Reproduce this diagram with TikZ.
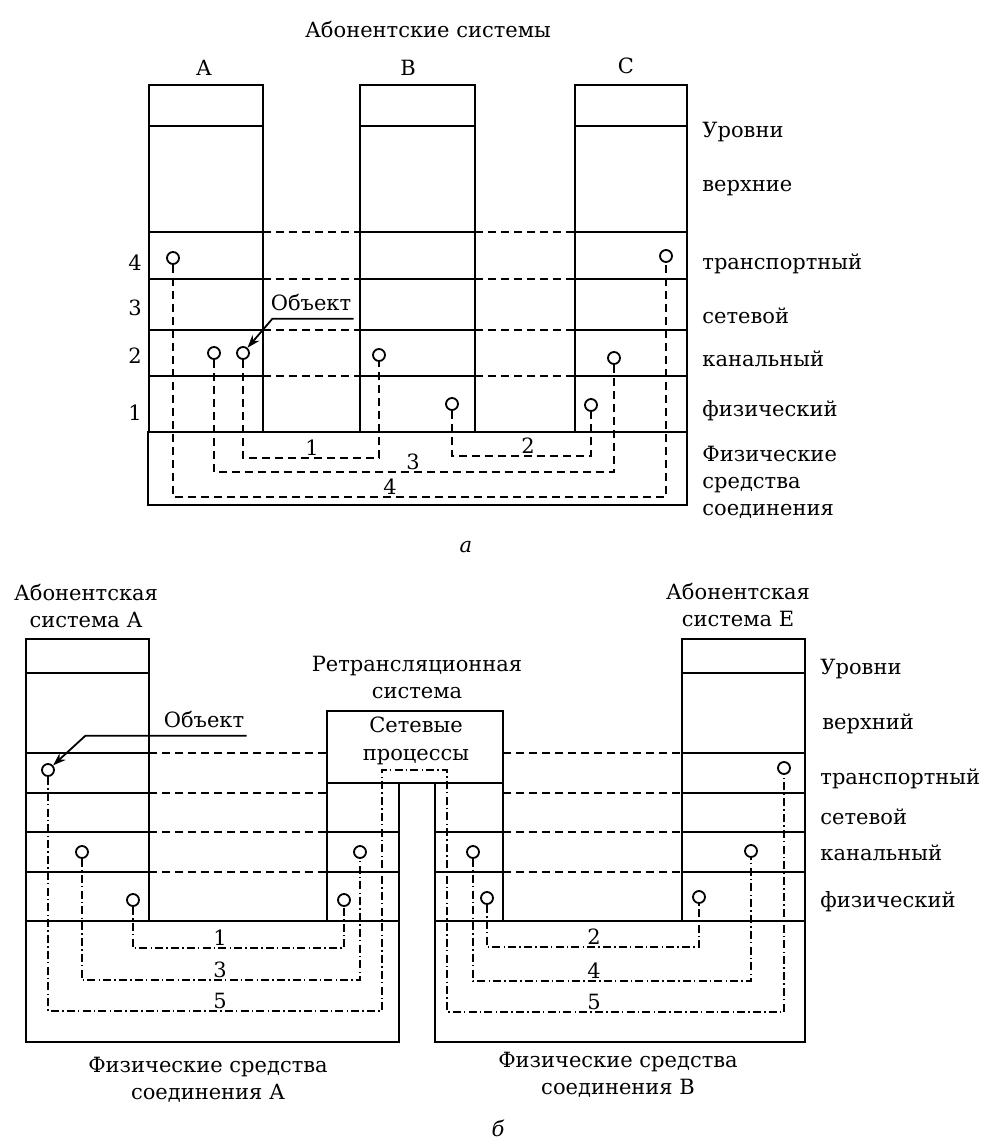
\documentclass[tikz,border=0pt]{standalone}
\usepackage{fontspec}
\setmainfont{DejaVu Serif}
\usetikzlibrary{arrows.meta, positioning, calc}

\tikzset{
  frame/.style={line width=1.3pt},
  thinframe/.style={line width=1pt},
  link/.style={line width=1.2pt, dash pattern=on 4pt off 2.5pt},
  thinlink/.style={line width=0.9pt, dash pattern=on 4pt off 2.5pt},
  route/.style={line width=0.9pt, dash pattern=on 4pt off 1.6pt on 0.7pt off 1.6pt},
  port/.style={circle, draw, line width=0.9pt, fill=white, minimum size=6pt, inner sep=0pt},
  lbl/.style={font=\fontsize{10.5}{13.5}\selectfont, inner sep=1pt, align=center},
  num/.style={lbl, anchor=south},
  side/.style={lbl, anchor=west},
  pointer/.style={line width=0.9pt, -{Stealth[length=6.5pt, width=4.5pt]}},
}

\begin{document}
\begin{tikzpicture}[x=0.5pt, y=-0.5pt]
  \useasboundingbox (0,0) rectangle (988,1144);

  % ---------- a ----------
  \node[lbl] (subsTitle) at (428,30) {Абонентские системы};
  \node[lbl] (sysA) at (204,68) {A};
  \node[lbl] (sysB) at (408,68) {B};
  \node[lbl] (sysC) at (626,66) {C};

  \foreach \l/\r in {149/263, 360/475, 575/687} {
    \draw[frame] (\l,85) rectangle (\r,432);
    \foreach \y in {126,232,279,330,376}
      \draw[frame] (\l,\y) -- (\r,\y);
  }
  \foreach \y in {232,279,330,376} {
    \draw[link] (263,\y) -- (360,\y);
    \draw[link] (475,\y) -- (575,\y);
  }
  \draw[frame] (148,432) rectangle (687,505);

  % level numbers
  \node[lbl] (lv4) at (135,263) {4};
  \node[lbl] (lv3) at (135,308) {3};
  \node[lbl] (lv2) at (135,356) {2};
  \node[lbl] (lv1) at (135,413) {1};

  % level names
  \node[side] (uA) at (700,132) {Уровни};
  \node[side] (uB) at (700,188) {верхние};
  \node[side] (uC) at (700,264) {транспортный};
  \node[side] (uD) at (700,316) {сетевой};
  \node[side] (uE) at (700,359) {канальный};
  \node[side] (uF) at (700,411) {физический};
  \node[side, align=left] (uG) at (700,482) {Физические\\средства\\соединения};

  % objects
  \node[port] (oA4) at (173,258) {};
  \node[port] (oA2a) at (214,353) {};
  \node[port] (oA2b) at (243,353) {};
  \node[port] (oB2) at (379,355) {};
  \node[port] (oB1) at (452,404) {};
  \node[port] (oC4) at (666,256) {};
  \node[port] (oC2) at (614,358) {};
  \node[port] (oC1) at (591,405) {};

  \draw[link] (oA2b.south) -- (oA2b.south |- 0,458) -| (oB2.south);
  \draw[link] (oB1.south) -- (oB1.south |- 0,456) -| (oC1.south);
  \draw[link] (oA2a.south) -- (oA2a.south |- 0,472) -| (oC2.south);
  \draw[link] (oA4.south) -- (oA4.south |- 0,497) -| (oC4.south);
  \node[num] (c1) at (312,458) {1};
  \node[num] (c2) at (528,456) {2};
  \node[num] (c3) at (413,472) {3};
  \node[num] (c4) at (390,497) {4};

  \node[lbl] (objTop) at (311,302) {Объект};
  \draw[pointer] ([yshift=-3pt]objTop.south east) -- ([xshift=2pt, yshift=-3pt]objTop.south west) -- (oA2b);

  \node[lbl, font=\fontsize{10.5}{13.5}\selectfont\itshape] (capA) at (466,547) {а};

  % ---------- б ----------
  \node[lbl] (hostA) at (86,606) {Абонентская\\система А};
  \node[lbl] (hostE) at (738,605) {Абонентская\\система Е};
  \node[lbl] (relayName) at (417,677) {Ретрансляционная\\система};

  \foreach \l/\r in {26/149, 682/805} {
    \draw[thinframe] (\l,639) rectangle (\r,921);
    \foreach \y in {673,753,793,832,872}
      \draw[thinframe] (\l,\y) -- (\r,\y);
  }
  \draw[thinframe] (327,711) rectangle (503,783);
  \draw[thinframe] (327,783) rectangle (399,921);
  \draw[thinframe] (435,783) rectangle (503,921);
  \foreach \y in {832,872} {
    \draw[thinframe] (327,\y) -- (399,\y);
    \draw[thinframe] (435,\y) -- (503,\y);
  }
  \foreach \y in {753,793,832,872} {
    \draw[thinlink] (149,\y) -- (327,\y);
    \draw[thinlink] (503,\y) -- (682,\y);
  }
  \draw[thinframe] (26,921) rectangle (399,1042);
  \draw[thinframe] (435,921) rectangle (805,1042);

  \node[lbl, font=\fontsize{10.5}{14}\selectfont] (netProc) at (416,741) {Сетевые\\процессы};

  % level names
  \node[side] (vA) at (818,669) {Уровни};
  \node[side] (vB) at (820,724) {верхний};
  \node[side] (vC) at (818,779) {транспортный};
  \node[side] (vD) at (818,817) {сетевой};
  \node[side] (vE) at (818,853) {канальный};
  \node[side] (vF) at (818,902) {физический};

  % objects
  \node[port] (pA5) at (48,770) {};
  \node[port] (pA3) at (82,852) {};
  \node[port] (pA1) at (133,900) {};
  \node[port] (pL3) at (360,852) {};
  \node[port] (pL1) at (344,900) {};
  \node[port] (pR3) at (473,852) {};
  \node[port] (pR1) at (487,898) {};
  \node[port] (pE2) at (699,897) {};
  \node[port] (pE4) at (751,851) {};
  \node[port] (pE5) at (784,768) {};

  \draw[route] (pA1.south) -- (pA1.south |- 0,948) -| (pL1.south);
  \draw[route] (pA3.south) -- (pA3.south |- 0,980) -| (pL3.south);
  \draw[route] (pA5.south) -- (pA5.south |- 0,1011) -- (382,1011) -- (382,770)
    -- (447,770) -- (447,1012) -| (pE5.south);
  \draw[route] (pR1.south) -- (pR1.south |- 0,947) -| (pE2.south);
  \draw[route] (pR3.south) -- (pR3.south |- 0,981) -| (pE4.south);
  \node[num] (d1) at (220,948) {1};
  \node[num] (d3) at (220,980) {3};
  \node[num] (d5) at (220,1011) {5};
  \node[num] (d2) at (594,947) {2};
  \node[num] (d4) at (594,981) {4};
  \node[num] (d6) at (594,1012) {5};

  \node[lbl] (objBot) at (204,719) {Объект};
  \draw[pointer] ([yshift=-3pt]objBot.south east) -- ([xshift=-38pt, yshift=-3pt]objBot.south west) -- (pA5);

  \node[lbl] (physA) at (208,1080) {Физические средства\\соединения А};
  \node[lbl] (physB) at (618,1075) {Физические средства\\соединения В};
  \node[lbl, font=\fontsize{10.5}{13.5}\selectfont\itshape] (capB) at (498,1128) {б};
\end{tikzpicture}
\end{document}
